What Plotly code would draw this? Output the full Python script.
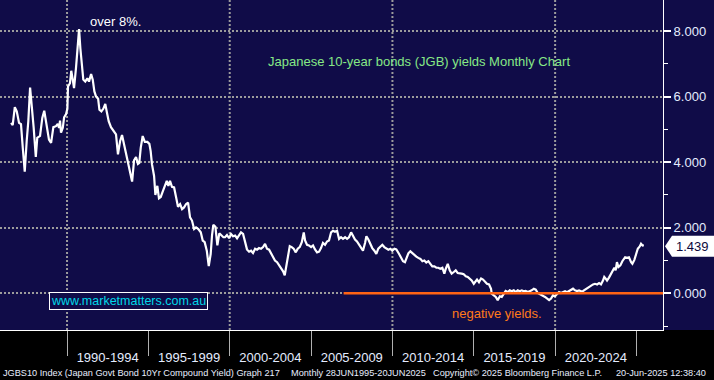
import plotly.graph_objects as go

# ---- data (decimal year, yield %) ----
years = [
    1986.56, 1986.66, 1986.79, 1986.91, 1987.05, 1987.17, 1987.28, 1987.40, 1987.52, 1987.62,
    1987.73, 1987.85, 1987.95, 1988.08, 1988.17, 1988.34, 1988.48, 1988.60, 1988.75, 1988.89,
    1989.02, 1989.16, 1989.32, 1989.43, 1989.51, 1989.57, 1989.63, 1989.74, 1989.82, 1989.94,
    1990.02, 1990.06, 1990.18, 1990.26, 1990.35, 1990.43, 1990.55, 1990.66, 1990.74, 1990.82,
    1990.90, 1991.00, 1991.12, 1991.25, 1991.35, 1991.48, 1991.58, 1991.68, 1991.78, 1991.91,
    1991.99, 1992.11, 1992.23, 1992.35, 1992.44, 1992.56, 1992.70, 1992.85, 1993.01, 1993.13,
    1993.26, 1993.38, 1993.50, 1993.67, 1993.83, 1994.00, 1994.12, 1994.24, 1994.36, 1994.44,
    1994.53, 1994.65, 1994.78, 1994.94, 1995.06, 1995.14, 1995.22, 1995.35, 1995.43, 1995.55,
    1995.65, 1995.76, 1995.88, 1996.00, 1996.13, 1996.23, 1996.33, 1996.45, 1996.58, 1996.70,
    1996.82, 1996.95, 1997.07, 1997.19, 1997.31, 1997.44, 1997.56, 1997.68, 1997.81, 1997.93,
    1998.07, 1998.22, 1998.34, 1998.46, 1998.59, 1998.71, 1998.83, 1998.91, 1998.99, 1999.12,
    1999.24, 1999.36, 1999.48, 1999.61, 1999.71, 1999.83, 1999.96, 2000.08, 2000.20, 2000.33,
    2000.45, 2000.57, 2000.69, 2000.82, 2000.94, 2001.06, 2001.19, 2001.31, 2001.43, 2001.56,
    2001.68, 2001.80, 2001.92, 2002.05, 2002.17, 2002.29, 2002.42, 2002.54, 2002.66, 2002.78,
    2002.91, 2003.03, 2003.15, 2003.28, 2003.38, 2003.48, 2003.60, 2003.69, 2003.81, 2003.93,
    2004.06, 2004.18, 2004.30, 2004.43, 2004.55, 2004.63, 2004.75, 2004.87, 2005.00, 2005.12,
    2005.24, 2005.37, 2005.49, 2005.61, 2005.73, 2005.86, 2005.98, 2006.10, 2006.23, 2006.35,
    2006.47, 2006.60, 2006.72, 2006.84, 2006.96, 2007.09, 2007.21, 2007.33, 2007.46, 2007.58,
    2007.70, 2007.82, 2007.95, 2008.07, 2008.19, 2008.32, 2008.40, 2008.52, 2008.64, 2008.76,
    2008.89, 2009.01, 2009.13, 2009.26, 2009.38, 2009.50, 2009.63, 2009.75, 2009.87, 2009.99,
    2010.12, 2010.24, 2010.41, 2010.53, 2010.65, 2010.77, 2010.90, 2010.98, 2011.10, 2011.22,
    2011.35, 2011.47, 2011.59, 2011.72, 2011.84, 2011.96, 2012.08, 2012.21, 2012.33, 2012.45,
    2012.58, 2012.70, 2012.82, 2012.94, 2013.07, 2013.19, 2013.28, 2013.40, 2013.52, 2013.64,
    2013.77, 2013.89, 2014.01, 2014.14, 2014.26, 2014.38, 2014.51, 2014.63, 2014.75, 2014.87,
    2015.00, 2015.08, 2015.20, 2015.32, 2015.45, 2015.57, 2015.69, 2015.81, 2015.94, 2016.06,
    2016.10, 2016.23, 2016.35, 2016.47, 2016.60, 2016.72, 2016.84, 2016.96, 2017.09, 2017.21,
    2017.33, 2017.46, 2017.58, 2017.70, 2017.82, 2017.95, 2018.07, 2018.19, 2018.32, 2018.44,
    2018.56, 2018.69, 2018.81, 2018.93, 2019.05, 2019.18, 2019.30, 2019.38, 2019.50, 2019.63,
    2019.75, 2019.87, 2019.99, 2020.12, 2020.24, 2020.36, 2020.49, 2020.61, 2020.73, 2020.85,
    2020.98, 2021.10, 2021.22, 2021.35, 2021.47, 2021.59, 2021.72, 2021.84, 2021.96, 2022.08,
    2022.21, 2022.33, 2022.45, 2022.58, 2022.70, 2022.82, 2022.94, 2023.02, 2023.11, 2023.19,
    2023.31, 2023.44, 2023.56, 2023.64, 2023.72, 2023.80, 2023.89, 2024.01, 2024.13, 2024.22,
    2024.30, 2024.42, 2024.54, 2024.67, 2024.75, 2024.87, 2024.99, 2025.08, 2025.20, 2025.28,
    2025.37, 2025.45,
]
yields = [
    5.20, 5.13, 5.68, 5.55, 5.20, 5.16, 4.44, 3.71, 4.64, 5.25,
    6.28, 5.65, 5.05, 4.16, 4.74, 4.80, 5.35, 5.57, 5.05, 4.69,
    4.59, 5.07, 5.10, 5.17, 5.05, 5.27, 4.90, 5.05, 5.37, 5.47,
    5.63, 6.31, 6.41, 6.79, 6.52, 6.26, 6.87, 7.47, 8.06, 7.47,
    6.97, 6.52, 6.46, 6.56, 6.46, 6.69, 6.52, 6.16, 6.01, 5.94,
    5.60, 5.55, 5.63, 5.78, 5.55, 5.25, 5.07, 4.97, 4.85, 4.24,
    4.64, 4.83, 4.54, 4.24, 3.83, 3.41, 4.06, 4.16, 3.95, 3.98,
    4.44, 4.80, 4.62, 4.62, 4.56, 4.34, 3.94, 3.58, 3.00, 3.28,
    2.90, 2.94, 3.10, 3.28, 3.43, 3.28, 3.43, 3.25, 3.23, 2.94,
    2.64, 2.72, 2.57, 2.62, 2.72, 2.77, 2.32, 2.22, 1.96, 2.01,
    1.96, 1.86, 1.61, 1.56, 1.30, 0.83, 1.20, 1.76, 2.09, 2.03,
    1.46, 1.83, 1.76, 1.71, 1.71, 1.78, 1.68, 1.81, 1.74, 1.76,
    1.68, 1.76, 1.86, 1.81, 1.61, 1.34, 1.27, 1.30, 1.23, 1.36,
    1.33, 1.38, 1.36, 1.41, 1.51, 1.36, 1.33, 1.23, 1.10, 1.00,
    0.95, 0.87, 0.77, 0.67, 0.55, 0.80, 1.17, 1.44, 1.41, 1.36,
    1.25, 1.36, 1.41, 1.56, 1.86, 1.61, 1.48, 1.46, 1.41, 1.46,
    1.34, 1.25, 1.27, 1.38, 1.54, 1.48, 1.58, 1.61, 1.86, 1.91,
    1.88, 1.91, 1.66, 1.71, 1.66, 1.71, 1.66, 1.71, 1.86, 1.74,
    1.64, 1.58, 1.48, 1.41, 1.30, 1.54, 1.74, 1.64, 1.51, 1.38,
    1.30, 1.20, 1.36, 1.41, 1.48, 1.41, 1.38, 1.33, 1.36, 1.30,
    1.36, 1.34, 1.20, 1.08, 0.98, 0.95, 1.12, 1.22, 1.28, 1.22,
    1.18, 1.12, 1.08, 1.05, 0.98, 1.00, 0.94, 0.98, 0.90, 0.82,
    0.82, 0.78, 0.78, 0.75, 0.78, 0.60, 0.75, 0.90, 0.70, 0.60,
    0.65, 0.70, 0.62, 0.62, 0.60, 0.58, 0.52, 0.50, 0.45, 0.39,
    0.29, 0.34, 0.42, 0.34, 0.45, 0.42, 0.34, 0.29, 0.27, 0.14,
    -0.01, -0.06, -0.11, -0.21, -0.09, -0.11, -0.01, 0.07, 0.04, 0.09,
    0.06, 0.09, 0.04, 0.09, 0.06, 0.09, 0.06, 0.07, 0.04, 0.06,
    0.09, 0.14, 0.11, 0.01, -0.03, -0.06, -0.09, -0.11, -0.16, -0.21,
    -0.16, -0.06, -0.09, -0.03, 0.04, 0.01, 0.04, 0.06, 0.03, 0.06,
    0.09, 0.14, 0.09, 0.07, 0.09, 0.06, 0.07, 0.11, 0.17, 0.21,
    0.24, 0.27, 0.29, 0.27, 0.31, 0.27, 0.39, 0.50, 0.45, 0.39,
    0.48, 0.60, 0.68, 0.78, 0.70, 0.95, 0.80, 0.85, 0.98, 1.05,
    1.10, 1.08, 1.10, 0.95, 0.90, 1.02, 1.18, 1.36, 1.43, 1.51,
    1.46, 1.47,
]

band_starts = [1990, 1995, 2000, 2005, 2010, 2015, 2020, 2025]
band_labels = ["1990-1994", "1995-1999", "2000-2004", "2005-2009",
               "2010-2014", "2015-2019", "2020-2024"]
decade_grid = [1990, 2000, 2010, 2020]
y_ticks = [0, 2, 4, 6, 8]
y_tick_text = ["0.000", "2.000", "4.000", "6.000", "8.000"]
y_minor = [-1, 1, 3, 5, 7]
last_label = "1.439"
last_value = 1.439
zero_line_start = 2007.0

X_RANGE = [1985.88, 2026.63]
Y_RANGE = [-1.12, 8.95]

NAVY = "#100c48"
GRID = "#9c9c9c"
W, H = 714, 380
ML, MR, MT, MB = 0, 51, 0, 50
PW = W - ML - MR
PH = H - MT - MB

fig = go.Figure()
fig.add_trace(go.Scatter(x=years, y=yields, mode="lines",
                         line=dict(color="white", width=2.2), hoverinfo="skip",
                         showlegend=False))

shapes = []
# right-hand navy panel
shapes.append(dict(type="rect", xref="paper", yref="paper", x0=1, x1=W / PW, y0=0, y1=1,
                   fillcolor=NAVY, line=dict(width=0), layer="below"))
for g in decade_grid:
    shapes.append(dict(type="line", xref="x", yref="paper", x0=g, x1=g, y0=0, y1=1,
                       line=dict(color=GRID, width=2, dash="2px,2px"), layer="below"))
# zero reference line
shapes.append(dict(type="line", xref="x", yref="y", x0=zero_line_start, x1=X_RANGE[1],
                   y0=0, y1=0, line=dict(color="#ff6414", width=2.5), layer="above"))
# last-value label tag
px = 1 / PW
half = 10.5 / PH * (Y_RANGE[1] - Y_RANGE[0])
x_tip, x_sh, x_end = 1 + 2 * px, 1 + 9 * px, W / PW
shapes.append(dict(type="path", xref="paper", yref="y",
                   path=f"M {x_tip},{last_value} L {x_sh},{last_value + half} "
                        f"L {x_end},{last_value + half} L {x_end},{last_value - half} "
                        f"L {x_sh},{last_value - half} Z",
                   fillcolor="white", line=dict(width=0), layer="above"))

FONT = "Liberation Sans, Arial, sans-serif"


def pxx(x):
    return x / PW


def pyy(y):
    return (PH - y) / PH


annotations = [
    dict(text="over 8%.", x=pxx(88), y=pyy(22), xref="paper", yref="paper",
         xanchor="left", yanchor="middle", showarrow=False,
         font=dict(color="white", size=13, family=FONT)),
    dict(text="Japanese 10-year bonds (JGB) yields Monthly Chart", x=pxx(266), y=pyy(62),
         xref="paper", yref="paper", xanchor="left", yanchor="middle", showarrow=False,
         font=dict(color="#86e886", size=13, family=FONT)),
    dict(text="negative yields.", x=pxx(497), y=pyy(313), xref="paper", yref="paper",
         xanchor="center", yanchor="middle", showarrow=False,
         font=dict(color="#ff7a1a", size=13, family=FONT)),
    dict(text="www.marketmatters.com.au", x=pxx(128), y=pyy(301), xref="paper", yref="paper",
         xanchor="center", yanchor="middle", showarrow=False,
         bordercolor="white", borderwidth=1, borderpad=1, bgcolor=NAVY,
         font=dict(color="#00d8e8", size=12.5, family=FONT)),
    dict(text=last_label, x=1 + 11 * px, y=last_value, xref="paper", yref="y",
         xanchor="left", yanchor="middle", showarrow=False,
         font=dict(color="#0c0a3c", size=13, family=FONT)),
]
footer = [
    ("JGBS10 Index (Japan Govt Bond 10Yr Compound Yield) Graph 217", 1),
    ("Monthly 28JUN1995-20JUN2025", 289),
    ("Copyright\u00a9 2025 Bloomberg Finance L.P.", 431),
    ("20-Jun-2025 12:38:40", 614),
]
for t, x in footer:
    annotations.append(dict(text=t, x=pxx(x), y=pyy(373), xref="paper", yref="paper",
                            xanchor="left", yanchor="middle", showarrow=False,
                            font=dict(color="#e8eeff", size=9.2, family=FONT)))

fig.update_layout(
    width=W, height=H, autosize=False,
    margin=dict(l=ML, r=MR, t=MT, b=MB, pad=0),
    paper_bgcolor="black", plot_bgcolor=NAVY,
    showlegend=False,
    shapes=shapes, annotations=annotations,
    xaxis=dict(range=X_RANGE, showgrid=False, zeroline=False,
               tickmode="array",
               tickvals=[b + 2.5 for b in band_starts[:-1]], ticktext=band_labels,
               ticks="outside", ticklen=15, tickcolor="rgba(0,0,0,0)",
               tickfont=dict(color="#e4ecff", size=13, family=FONT),
               showline=True, linecolor="white", linewidth=1, automargin=False,
               minor=dict(tickmode="array", tickvals=band_starts, ticks="outside",
                          ticklen=25, tickcolor="#b0b0b0", tickwidth=1, showgrid=False),
               fixedrange=True),
    yaxis=dict(range=Y_RANGE, side="right", tickmode="array", tickvals=y_ticks,
               ticktext=y_tick_text, showgrid=True, gridcolor=GRID, gridwidth=2,
               griddash="2px,2px", zeroline=False, automargin=False,
               ticks="outside", ticklen=7, tickwidth=2, tickcolor="white",
               tickfont=dict(color="#e4ecff", size=13, family=FONT),
               showline=True, linecolor="white", linewidth=1,
               minor=dict(tickmode="array", tickvals=y_minor, ticks="outside",
                          ticklen=4, tickcolor="white", tickwidth=1, showgrid=False),
               fixedrange=True),
)

fig.write_html(
    "out.html",
    config={"displayModeBar": False},
    post_script="document.body.style.margin='0';document.body.style.background='black';",
)
